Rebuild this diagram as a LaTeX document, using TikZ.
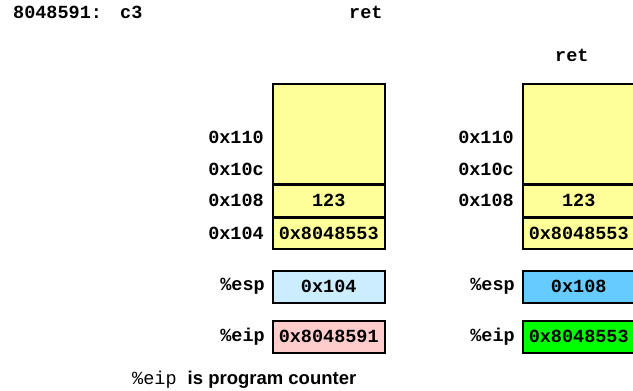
\documentclass[tikz,border=0pt]{standalone}
\usepackage{fontspec}
\setmonofont{Liberation Mono}
\setsansfont{Liberation Sans}
\usetikzlibrary{positioning}

\definecolor{stackyellow}{HTML}{FFFF99}
\definecolor{espold}{HTML}{CCECFF}
\definecolor{espnew}{HTML}{66CCFF}
\definecolor{eipold}{HTML}{FFCCCC}
\definecolor{eipnew}{HTML}{00FF00}

\tikzset{
  code/.style={font=\fontsize{18.5}{22}\selectfont\ttfamily\bfseries, inner sep=0pt},
  cell/.style={code, draw, line width=1.5pt, fill=stackyellow, minimum width=112pt, minimum height=31pt, anchor=north},
  addr/.style={code, anchor=east},
  regbox/.style={code, draw, line width=1.5pt, minimum width=112pt, minimum height=32pt, anchor=north west},
}

\begin{document}
\begin{tikzpicture}[x=1pt,y=-1pt]
  \useasboundingbox (0,0) rectangle (633,391);

  % instruction
  \node[code, anchor=base west] (iaddr) at (13,18.5) {8048591:};
  \node[code, anchor=base west] (ibyte) at (120,18.5) {c3};
  \node[code, anchor=base west] (iop) at (349,18.5) {ret};

  % before ret
  \node[cell, minimum height=100pt, anchor=north west] (ltop) at (272,83) {};
  \node[cell] (l108) at (ltop.south) {123};
  \node[cell] (l104) at (l108.south) {0x8048553};
  \node[addr, left=8pt of l108] (la108) {0x108};
  \node[addr, left=8pt of l104] (la104) {0x104};
  \node[addr] (la10c) at ([yshift=31.5pt]la108.east) {0x10c};
  \node[addr] (la110) at ([yshift=31.5pt]la10c.east) {0x110};

  \node[regbox, fill=espold] (lesp) at (272,270) {0x104};
  \node[regbox, fill=eipold] (leip) at (272,320) {0x8048591};
  \node[addr, left=7pt of lesp] (lespname) {\%esp};
  \node[addr, left=7pt of leip] (leipname) {\%eip};

  % after ret
  \node[code, anchor=base west] (rop) at (555,61) {ret};
  \node[cell, minimum height=100pt, anchor=north west] (rtop) at (522,83) {};
  \node[cell] (r108) at (rtop.south) {123};
  \node[cell] (r104) at (r108.south) {0x8048553};
  \node[addr, left=8pt of r108] (ra108) {0x108};
  \node[addr] (ra10c) at ([yshift=31.5pt]ra108.east) {0x10c};
  \node[addr] (ra110) at ([yshift=31.5pt]ra10c.east) {0x110};

  \node[regbox, fill=espnew] (resp) at (522,270) {0x108};
  \node[regbox, fill=eipnew] (reip) at (522,320) {0x8048553};
  \node[addr, left=7pt of resp] (respname) {\%esp};
  \node[addr, left=7pt of reip] (reipname) {\%eip};

  % note
  \node[anchor=base west, inner sep=0pt, font=\fontsize{18.5}{22}\selectfont] (note) at (132,384)
    {{\ttfamily\%eip\ }{\sffamily\bfseries is program counter}};
\end{tikzpicture}
\end{document}
